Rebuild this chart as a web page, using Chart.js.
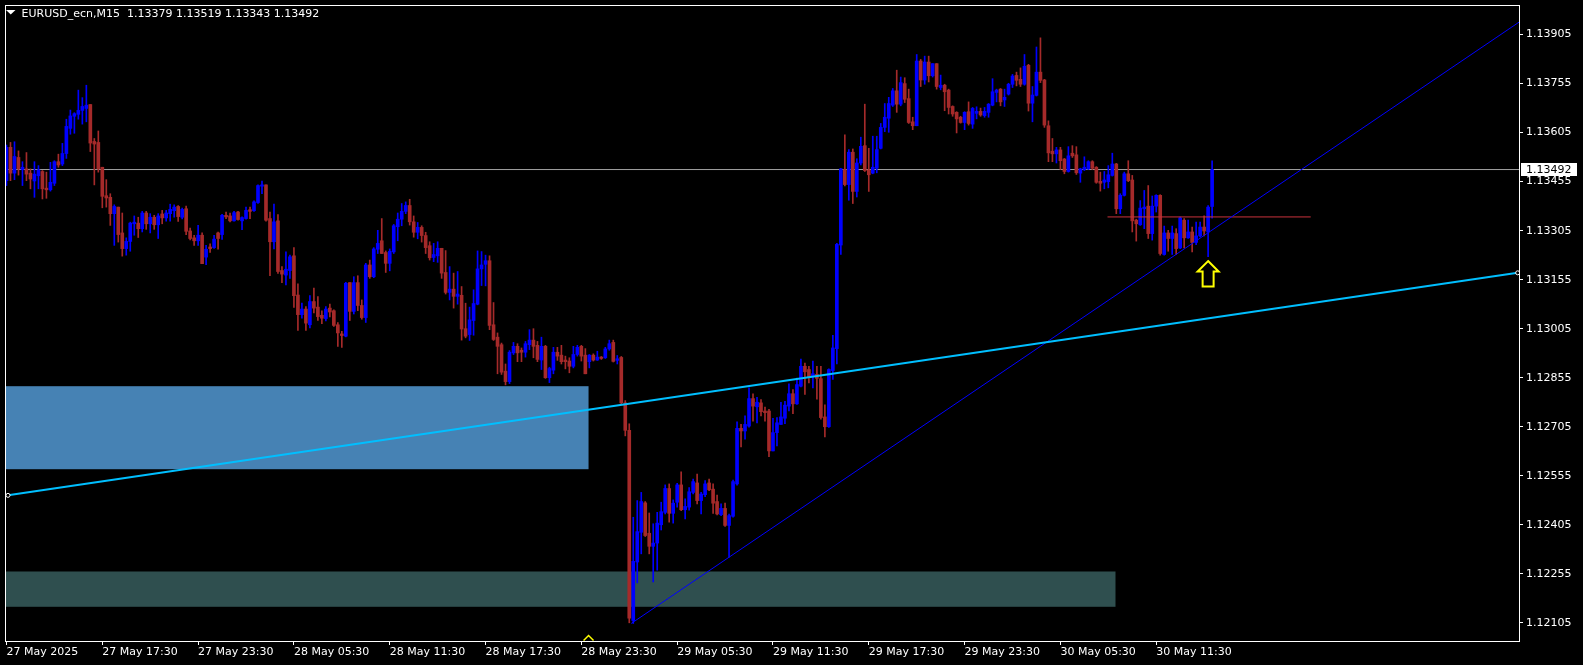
<!DOCTYPE html>
<html>
<head>
<meta charset="utf-8">
<script src="https://cdn.jsdelivr.net/npm/chart.js@4.4.1/dist/chart.umd.min.js"></script>
<style>
  html, body { margin: 0; padding: 0; background: #000; }
  #wrap { width: 1583px; height: 665px; }
</style>
</head>
<body>
<div id="wrap"><canvas id="chart" width="1583" height="665"></canvas></div>
<script>
const symbol = 'EURUSD_ecn,M15'

// M15 bars, index 0 = 27 May 11:30
const opens = [
  1.13458, 1.13560, 1.13481, 1.13529, 1.13492, 1.13494, 1.13481, 1.13457, 1.13473, 1.13486,
  1.13435, 1.13430, 1.13450, 1.13516, 1.13509, 1.13541, 1.13618, 1.13655, 1.13661, 1.13673,
  1.13679, 1.13691, 1.13578, 1.13575, 1.13499, 1.13412, 1.13407, 1.13357, 1.13377, 1.13298,
  1.13250, 1.13272, 1.13326, 1.13328, 1.13311, 1.13359, 1.13326, 1.13346, 1.13323, 1.13356,
  1.13344, 1.13357, 1.13366, 1.13379, 1.13346, 1.13372, 1.13304, 1.13283, 1.13274, 1.13291,
  1.13224, 1.13255, 1.13253, 1.13298, 1.13293, 1.13352, 1.13350, 1.13335, 1.13362, 1.13335,
  1.13342, 1.13369, 1.13366, 1.13391, 1.13441, 1.13445, 1.13342, 1.13271, 1.13335, 1.13183,
  1.13169, 1.13183, 1.13228, 1.13108, 1.13048, 1.13065, 1.13017, 1.13088, 1.13071, 1.13046,
  1.13036, 1.13068, 1.13060, 1.13017, 1.12989, 1.12982, 1.13146, 1.13058, 1.13146, 1.13076,
  1.13039, 1.13200, 1.13164, 1.13248, 1.13274, 1.13238, 1.13205, 1.13240, 1.13317, 1.13340,
  1.13364, 1.13382, 1.13332, 1.13300, 1.13315, 1.13290, 1.13259, 1.13223, 1.13228, 1.13251,
  1.13177, 1.13116, 1.13126, 1.13104, 1.13107, 1.13005, 1.12987, 1.13030, 1.13080, 1.13188,
  1.13202, 1.13213, 1.13017, 1.12979, 1.12956, 1.12875, 1.12843, 1.12931, 1.12951, 1.12939,
  1.12933, 1.12956, 1.12970, 1.12954, 1.12909, 1.12951, 1.12855, 1.12878, 1.12933, 1.12924,
  1.12909, 1.12906, 1.12890, 1.12926, 1.12951, 1.12924, 1.12904, 1.12924, 1.12909, 1.12918,
  1.12916, 1.12943, 1.12963, 1.12908, 1.12917, 1.12778, 1.12694, 1.12112, 1.12291, 1.12382,
  1.12472, 1.12379, 1.12339, 1.12349, 1.12405, 1.12443, 1.12516, 1.12440, 1.12474, 1.12527,
  1.12451, 1.12459, 1.12504, 1.12533, 1.12479, 1.12497, 1.12533, 1.12514, 1.12476, 1.12436,
  1.12455, 1.12403, 1.12431, 1.12530, 1.12700, 1.12692, 1.12707, 1.12791, 1.12766, 1.12778,
  1.12753, 1.12753, 1.12631, 1.12687, 1.12712, 1.12731, 1.12768, 1.12806, 1.12775, 1.12829,
  1.12890, 1.12880, 1.12860, 1.12865, 1.12852, 1.12735, 1.12705, 1.12877, 1.12944, 1.13261,
  1.13492, 1.13446, 1.13545, 1.13425, 1.13512, 1.13565, 1.13491, 1.13481, 1.13496, 1.13557,
  1.13621, 1.13649, 1.13689, 1.13733, 1.13692, 1.13755, 1.13709, 1.13638, 1.13626, 1.13824,
  1.13766, 1.13821, 1.13779, 1.13816, 1.13743, 1.13750, 1.13735, 1.13685, 1.13667, 1.13652,
  1.13636, 1.13669, 1.13631, 1.13664, 1.13670, 1.13657, 1.13667, 1.13689, 1.13728, 1.13738,
  1.13705, 1.13723, 1.13753, 1.13780, 1.13768, 1.13753, 1.13811, 1.13695, 1.13719, 1.13790,
  1.13766, 1.13626, 1.13548, 1.13540, 1.13552, 1.13524, 1.13486, 1.13542, 1.13537, 1.13481,
  1.13492, 1.13494, 1.13516, 1.13499, 1.13456, 1.13453, 1.13455, 1.13474, 1.13509, 1.13372,
  1.13413, 1.13479, 1.13460, 1.13337, 1.13323, 1.13372, 1.13380, 1.13296, 1.13380, 1.13413,
  1.13232, 1.13298, 1.13281, 1.13296, 1.13252, 1.13337, 1.13283, 1.13301, 1.13269, 1.13289,
  1.13316, 1.13301, 1.13379
]
const highs = [
  1.13567, 1.13575, 1.13577, 1.13549, 1.13516, 1.13544, 1.13494, 1.13516, 1.13504, 1.13489,
  1.13484, 1.13514, 1.13519, 1.13539, 1.13572, 1.13646, 1.13674, 1.13666, 1.13735, 1.13712,
  1.13750, 1.13691, 1.13587, 1.13610, 1.13499, 1.13461, 1.13418, 1.13384, 1.13377, 1.13359,
  1.13283, 1.13331, 1.13350, 1.13346, 1.13364, 1.13364, 1.13357, 1.13352, 1.13357, 1.13367,
  1.13367, 1.13386, 1.13384, 1.13382, 1.13374, 1.13380, 1.13313, 1.13291, 1.13321, 1.13298,
  1.13260, 1.13265, 1.13291, 1.13301, 1.13355, 1.13362, 1.13359, 1.13364, 1.13364, 1.13347,
  1.13377, 1.13377, 1.13396, 1.13445, 1.13457, 1.13445, 1.13362, 1.13386, 1.13354, 1.13195,
  1.13240, 1.13230, 1.13253, 1.13142, 1.13083, 1.13073, 1.13106, 1.13129, 1.13103, 1.13060,
  1.13073, 1.13080, 1.13063, 1.13024, 1.12997, 1.13147, 1.13146, 1.13164, 1.13167, 1.13093,
  1.13205, 1.13215, 1.13253, 1.13306, 1.13342, 1.13243, 1.13249, 1.13324, 1.13359, 1.13388,
  1.13393, 1.13401, 1.13350, 1.13330, 1.13320, 1.13300, 1.13271, 1.13266, 1.13271, 1.13251,
  1.13244, 1.13195, 1.13175, 1.13180, 1.13134, 1.13083, 1.13071, 1.13124, 1.13243, 1.13241,
  1.13230, 1.13228, 1.13085, 1.12992, 1.12961, 1.12897, 1.12938, 1.12963, 1.12959, 1.12946,
  1.12966, 1.13002, 1.13005, 1.12966, 1.12979, 1.12954, 1.12887, 1.12948, 1.12948, 1.12954,
  1.12921, 1.12916, 1.12951, 1.12954, 1.12954, 1.12944, 1.12926, 1.12928, 1.12936, 1.12920,
  1.12948, 1.12970, 1.12970, 1.12923, 1.12920, 1.12785, 1.12714, 1.12428, 1.12479, 1.12504,
  1.12476, 1.12441, 1.12408, 1.12443, 1.12474, 1.12527, 1.12530, 1.12481, 1.12532, 1.12567,
  1.12484, 1.12519, 1.12545, 1.12560, 1.12504, 1.12540, 1.12545, 1.12530, 1.12496, 1.12469,
  1.12471, 1.12438, 1.12542, 1.12720, 1.12712, 1.12738, 1.12824, 1.12806, 1.12795, 1.12788,
  1.12765, 1.12758, 1.12731, 1.12733, 1.12780, 1.12783, 1.12836, 1.12819, 1.12854, 1.12912,
  1.12900, 1.12890, 1.12906, 1.12890, 1.12890, 1.12772, 1.12882, 1.12985, 1.13266, 1.13496,
  1.13598, 1.13553, 1.13555, 1.13525, 1.13591, 1.13692, 1.13557, 1.13594, 1.13594, 1.13633,
  1.13694, 1.13713, 1.13740, 1.13796, 1.13775, 1.13773, 1.13738, 1.13652, 1.13844, 1.13829,
  1.13839, 1.13839, 1.13816, 1.13816, 1.13781, 1.13753, 1.13738, 1.13687, 1.13669, 1.13655,
  1.13669, 1.13699, 1.13682, 1.13684, 1.13680, 1.13682, 1.13694, 1.13770, 1.13738, 1.13740,
  1.13738, 1.13756, 1.13783, 1.13790, 1.13803, 1.13844, 1.13814, 1.13746, 1.13867, 1.13895,
  1.13768, 1.13641, 1.13587, 1.13560, 1.13560, 1.13526, 1.13562, 1.13565, 1.13562, 1.13496,
  1.13531, 1.13519, 1.13519, 1.13501, 1.13484, 1.13486, 1.13504, 1.13542, 1.13511, 1.13418,
  1.13484, 1.13519, 1.13474, 1.13340, 1.13397, 1.13428, 1.13443, 1.13411, 1.13415, 1.13415,
  1.13319, 1.13306, 1.13319, 1.13311, 1.13347, 1.13342, 1.13337, 1.13316, 1.13331, 1.13331,
  1.13350, 1.13382, 1.13519
]
const lows = [
  1.13443, 1.13458, 1.13461, 1.13475, 1.13443, 1.13458, 1.13433, 1.13407, 1.13433, 1.13402,
  1.13404, 1.13426, 1.13443, 1.13499, 1.13504, 1.13526, 1.13600, 1.13603, 1.13646, 1.13631,
  1.13638, 1.13547, 1.13445, 1.13484, 1.13375, 1.13377, 1.13321, 1.13260, 1.13270, 1.13227,
  1.13230, 1.13242, 1.13291, 1.13284, 1.13301, 1.13309, 1.13298, 1.13309, 1.13281, 1.13326,
  1.13334, 1.13334, 1.13346, 1.13333, 1.13341, 1.13293, 1.13277, 1.13260, 1.13260, 1.13204,
  1.13201, 1.13238, 1.13251, 1.13248, 1.13278, 1.13342, 1.13332, 1.13334, 1.13337, 1.13308,
  1.13340, 1.13342, 1.13364, 1.13388, 1.13418, 1.13334, 1.13167, 1.13249, 1.13174, 1.13146,
  1.13139, 1.13159, 1.13070, 1.13000, 1.13037, 1.13000, 1.13007, 1.13053, 1.13030, 1.13020,
  1.13029, 1.13041, 1.13012, 1.12951, 1.12948, 1.12980, 1.13030, 1.13050, 1.13060, 1.13034,
  1.13024, 1.13159, 1.13161, 1.13235, 1.13235, 1.13177, 1.13182, 1.13235, 1.13274, 1.13320,
  1.13357, 1.13322, 1.13285, 1.13280, 1.13270, 1.13235, 1.13215, 1.13210, 1.13208, 1.13159,
  1.13111, 1.13093, 1.13068, 1.13080, 1.12970, 1.12977, 1.12969, 1.12985, 1.13078, 1.13137,
  1.13136, 1.13002, 1.12969, 1.12867, 1.12865, 1.12833, 1.12837, 1.12926, 1.12904, 1.12904,
  1.12918, 1.12941, 1.12916, 1.12904, 1.12880, 1.12853, 1.12840, 1.12867, 1.12908, 1.12897,
  1.12882, 1.12870, 1.12885, 1.12921, 1.12906, 1.12867, 1.12885, 1.12906, 1.12908, 1.12911,
  1.12914, 1.12939, 1.12903, 1.12897, 1.12775, 1.12677, 1.12105, 1.12103, 1.12227, 1.12316,
  1.12369, 1.12316, 1.12230, 1.12266, 1.12389, 1.12438, 1.12413, 1.12410, 1.12459, 1.12448,
  1.12423, 1.12450, 1.12499, 1.12469, 1.12438, 1.12491, 1.12509, 1.12440, 1.12435, 1.12433,
  1.12400, 1.12306, 1.12428, 1.12526, 1.12643, 1.12667, 1.12704, 1.12722, 1.12717, 1.12738,
  1.12722, 1.12613, 1.12631, 1.12646, 1.12712, 1.12714, 1.12753, 1.12745, 1.12773, 1.12827,
  1.12804, 1.12839, 1.12824, 1.12789, 1.12728, 1.12674, 1.12703, 1.12850, 1.12897, 1.13232,
  1.13442, 1.13398, 1.13388, 1.13408, 1.13506, 1.13486, 1.13425, 1.13479, 1.13482, 1.13555,
  1.13608, 1.13606, 1.13685, 1.13667, 1.13687, 1.13697, 1.13633, 1.13614, 1.13626, 1.13746,
  1.13753, 1.13760, 1.13775, 1.13738, 1.13736, 1.13672, 1.13662, 1.13655, 1.13604, 1.13634,
  1.13614, 1.13628, 1.13618, 1.13647, 1.13655, 1.13652, 1.13652, 1.13687, 1.13699, 1.13687,
  1.13685, 1.13720, 1.13743, 1.13748, 1.13746, 1.13750, 1.13671, 1.13638, 1.13717, 1.13758,
  1.13621, 1.13516, 1.13516, 1.13512, 1.13492, 1.13479, 1.13484, 1.13529, 1.13477, 1.13453,
  1.13489, 1.13492, 1.13492, 1.13450, 1.13426, 1.13433, 1.13436, 1.13472, 1.13357, 1.13357,
  1.13411, 1.13455, 1.13301, 1.13273, 1.13321, 1.13311, 1.13281, 1.13276, 1.13362, 1.13230,
  1.13230, 1.13242, 1.13232, 1.13232, 1.13250, 1.13252, 1.13281, 1.13240, 1.13262, 1.13286,
  1.13289, 1.13225, 1.13343
]
const closes = [
  1.13560, 1.13481, 1.13532, 1.13494, 1.13499, 1.13478, 1.13463, 1.13478, 1.13491, 1.13433,
  1.13430, 1.13453, 1.13516, 1.13506, 1.13541, 1.13624, 1.13656, 1.13663, 1.13673, 1.13685,
  1.13689, 1.13573, 1.13570, 1.13494, 1.13410, 1.13405, 1.13357, 1.13379, 1.13293, 1.13250,
  1.13272, 1.13328, 1.13331, 1.13311, 1.13359, 1.13326, 1.13346, 1.13323, 1.13350, 1.13344,
  1.13359, 1.13370, 1.13377, 1.13348, 1.13370, 1.13303, 1.13281, 1.13274, 1.13291, 1.13204,
  1.13248, 1.13250, 1.13279, 1.13281, 1.13352, 1.13347, 1.13335, 1.13360, 1.13339, 1.13345,
  1.13367, 1.13364, 1.13393, 1.13443, 1.13445, 1.13337, 1.13271, 1.13332, 1.13180, 1.13172,
  1.13187, 1.13225, 1.13106, 1.13048, 1.13065, 1.13022, 1.13088, 1.13068, 1.13042, 1.13037,
  1.13065, 1.13056, 1.13015, 1.12992, 1.12984, 1.13144, 1.13058, 1.13146, 1.13076, 1.13039,
  1.13200, 1.13164, 1.13249, 1.13266, 1.13235, 1.13205, 1.13242, 1.13320, 1.13340, 1.13364,
  1.13382, 1.13332, 1.13300, 1.13315, 1.13290, 1.13253, 1.13222, 1.13232, 1.13251, 1.13175,
  1.13116, 1.13126, 1.13104, 1.13111, 1.13004, 1.12982, 1.13032, 1.13082, 1.13188, 1.13200,
  1.13213, 1.13015, 1.12972, 1.12951, 1.12872, 1.12843, 1.12933, 1.12951, 1.12931, 1.12933,
  1.12959, 1.12970, 1.12951, 1.12911, 1.12951, 1.12855, 1.12883, 1.12933, 1.12921, 1.12904,
  1.12904, 1.12890, 1.12926, 1.12948, 1.12921, 1.12867, 1.12924, 1.12909, 1.12918, 1.12914,
  1.12943, 1.12959, 1.12905, 1.12913, 1.12778, 1.12694, 1.12119, 1.12293, 1.12384, 1.12476,
  1.12372, 1.12339, 1.12349, 1.12410, 1.12445, 1.12516, 1.12440, 1.12471, 1.12527, 1.12451,
  1.12461, 1.12506, 1.12537, 1.12479, 1.12499, 1.12530, 1.12512, 1.12471, 1.12438, 1.12455,
  1.12403, 1.12433, 1.12537, 1.12700, 1.12692, 1.12712, 1.12791, 1.12768, 1.12780, 1.12751,
  1.12748, 1.12631, 1.12687, 1.12717, 1.12735, 1.12771, 1.12806, 1.12775, 1.12834, 1.12890,
  1.12873, 1.12856, 1.12867, 1.12853, 1.12733, 1.12705, 1.12880, 1.12946, 1.13263, 1.13494,
  1.13446, 1.13545, 1.13425, 1.13512, 1.13563, 1.13489, 1.13476, 1.13499, 1.13553, 1.13621,
  1.13652, 1.13694, 1.13733, 1.13692, 1.13758, 1.13707, 1.13636, 1.13626, 1.13824, 1.13766,
  1.13821, 1.13779, 1.13816, 1.13746, 1.13750, 1.13730, 1.13682, 1.13662, 1.13647, 1.13636,
  1.13667, 1.13633, 1.13679, 1.13670, 1.13659, 1.13670, 1.13692, 1.13730, 1.13735, 1.13699,
  1.13713, 1.13753, 1.13778, 1.13765, 1.13753, 1.13808, 1.13695, 1.13720, 1.13790, 1.13765,
  1.13628, 1.13543, 1.13540, 1.13552, 1.13519, 1.13486, 1.13534, 1.13534, 1.13482, 1.13494,
  1.13499, 1.13516, 1.13496, 1.13453, 1.13450, 1.13460, 1.13476, 1.13509, 1.13372, 1.13413,
  1.13479, 1.13458, 1.13335, 1.13326, 1.13374, 1.13377, 1.13296, 1.13380, 1.13413, 1.13235,
  1.13298, 1.13281, 1.13298, 1.13250, 1.13344, 1.13283, 1.13301, 1.13269, 1.13289, 1.13316,
  1.13304, 1.13377, 1.13492
]

// time axis: bar index of each label
const xTickIndex = [0, 24, 48, 72, 96, 120, 144, 168, 192, 216, 240, 264, 288]
const xLabels = ['27 May 2025', '27 May 17:30', '27 May 23:30', '28 May 05:30', '28 May 11:30',
  '28 May 17:30', '28 May 23:30', '29 May 05:30', '29 May 11:30', '29 May 17:30',
  '29 May 23:30', '30 May 05:30', '30 May 11:30']
const yTicks = [1.12105, 1.12255, 1.12405, 1.12555, 1.12705, 1.12855, 1.13005,
  1.13155, 1.13305, 1.13455, 1.13605, 1.13755, 1.13905]

// drawn objects: [fromBar, toBar, upperPrice, lowerPrice]
const zones = [
  [-5, 145.8, 1.12829, 1.12575],
  [-5, 277.8, 1.12262, 1.12154]
]
const cyanTrend = [{ x: 0.375, y: 1.12495 }, { x: 378.55, y: 1.13176 }]
const blueTrend = [{ x: 156.5, y: 1.12103 }, { x: 378.875, y: 1.13943 }]
const levelLine = [{ x: 275.8, y: 1.13347 }, { x: 326.7, y: 1.13347 }]
const arrowBar = 301
const arrowPrice = 1.13212
const markerBar = 145.8

const last = closes.length - 1
const bid = closes[last]
const bull = opens.map((o, i) => closes[i] >= o)
const barColors = bull.map(b => (b ? '#0000ff' : '#a52a2a'))

Chart.defaults.font.family = 'DejaVu Sans'
Chart.defaults.font.size = 11
Chart.defaults.color = '#ffffff'

const overlay = {
  id: 'overlay',
  beforeDraw (chart) {
    const { ctx, width, height } = chart
    ctx.save()
    ctx.fillStyle = '#000'
    ctx.fillRect(0, 0, width, height)
    ctx.restore()
  },
  beforeDatasetsDraw (chart) {
    const { ctx, chartArea: a, scales: { x, y } } = chart
    ctx.save()
    ctx.beginPath()
    ctx.rect(a.left, a.top, a.right - a.left, a.bottom - a.top)
    ctx.clip()
    const fills = ['#4682b4', '#2f4f4f']
    zones.forEach((z, k) => {
      const x0 = x.getPixelForValue(z[0])
      const x1 = x.getPixelForValue(z[1])
      const y0 = y.getPixelForValue(z[2])
      const y1 = y.getPixelForValue(z[3])
      ctx.fillStyle = fills[k]
      ctx.fillRect(x0, y0, x1 - x0, y1 - y0)
    })
    ctx.restore()
  },
  afterDraw (chart) {
    const { ctx, chartArea: a, scales: { x, y } } = chart
    ctx.save()

    // up arrow under the last-but-one bar
    const ax = x.getPixelForValue(arrowBar)
    const ay = y.getPixelForValue(arrowPrice)
    ctx.beginPath()
    ctx.moveTo(ax, ay)
    ctx.lineTo(ax + 10.5, ay + 10.5)
    ctx.lineTo(ax + 5.5, ay + 10.5)
    ctx.lineTo(ax + 5.5, ay + 25.5)
    ctx.lineTo(ax - 5.5, ay + 25.5)
    ctx.lineTo(ax - 5.5, ay + 10.5)
    ctx.lineTo(ax - 10.5, ay + 10.5)
    ctx.closePath()
    ctx.strokeStyle = '#ffff00'
    ctx.lineWidth = 2
    ctx.stroke()

    // small marker on the time axis
    const mx = x.getPixelForValue(markerBar)
    ctx.beginPath()
    ctx.moveTo(mx - 5, a.bottom - 0.5)
    ctx.lineTo(mx, a.bottom - 5.5)
    ctx.lineTo(mx + 5, a.bottom - 0.5)
    ctx.lineWidth = 1.5
    ctx.stroke()

    // frame
    ctx.strokeStyle = '#ffffff'
    ctx.lineWidth = 1
    ctx.strokeRect(a.left + 0.5, a.top + 0.5, a.right - a.left, a.bottom - a.top)

    // bid price label
    const by = Math.round(y.getPixelForValue(bid))
    ctx.fillStyle = '#ffffff'
    ctx.fillRect(a.right + 2, by - 7, 56, 13)
    ctx.fillStyle = '#000000'
    ctx.font = '11px "DejaVu Sans"'
    ctx.textBaseline = 'middle'
    ctx.textAlign = 'left'
    ctx.fillText(bid.toFixed(5), a.right + 7, by)

    // header
    ctx.fillStyle = '#ffffff'
    ctx.beginPath()
    ctx.moveTo(6, 10)
    ctx.lineTo(15.5, 10)
    ctx.lineTo(10.75, 14.5)
    ctx.closePath()
    ctx.fill()
    const ohlc = [opens[last], highs[last], lows[last], closes[last]].map(v => v.toFixed(5)).join(' ')
    ctx.textBaseline = 'alphabetic'
    ctx.fillText(symbol + '  ' + ohlc, 21.5, 17)
    ctx.restore()
  }
}

new Chart(document.getElementById('chart'), {
  type: 'bar',
  data: {
    datasets: [
      {
        type: 'line',
        data: cyanTrend,
        borderColor: '#00bfff',
        borderWidth: 2,
        pointRadius: 2,
        pointBorderColor: '#ffffff',
        pointBackgroundColor: '#000000',
        pointBorderWidth: 1,
        clip: 0,
        order: 0
      },
      {
        type: 'line',
        data: blueTrend,
        borderColor: '#0000ff',
        borderWidth: 1,
        pointRadius: 0,
        clip: 0,
        order: 1
      },
      {
        type: 'line',
        data: levelLine,
        borderColor: '#c8323c',
        borderWidth: 1,
        pointRadius: 0,
        clip: 0,
        order: 2
      },
      {
        label: 'bodies',
        data: opens.map((o, i) => ({ x: i, y: [o, closes[i]] })),
        backgroundColor: barColors,
        barThickness: 3,
        minBarLength: 1,
        grouped: false,
        order: 3
      },
      {
        label: 'wicks',
        data: lows.map((l, i) => ({ x: i, y: [l, highs[i]] })),
        backgroundColor: barColors,
        barThickness: 1,
        grouped: false,
        order: 4
      },
      {
        type: 'line',
        data: [{ x: -1, y: bid }, { x: 380, y: bid }],
        borderColor: '#a0a0a0',
        borderWidth: 1,
        pointRadius: 0,
        clip: 0,
        order: 5
      }
    ]
  },
  options: {
    responsive: false,
    animation: false,
    events: [],
    devicePixelRatio: 1,
    layout: { padding: { left: 2, top: 2, right: 0, bottom: 0 } },
    plugins: { legend: { display: false }, tooltip: { enabled: false } },
    scales: {
      x: {
        type: 'linear',
        min: -0.375,
        max: 378.875,
        offset: false,
        border: { display: false },
        grid: { drawOnChartArea: false, offset: false, color: '#ffffff', tickLength: 4 },
        ticks: {
          autoSkip: false,
          maxRotation: 0,
          align: 'start',
          padding: 1,
          color: '#ffffff',
          callback: (v, i) => xLabels[i]
        },
        afterBuildTicks: scale => { scale.ticks = xTickIndex.map(v => ({ value: v })) },
        afterFit: scale => {
          scale.height = 24
          scale.paddingLeft = 0
          scale.paddingRight = 0
        }
      },
      y: {
        position: 'right',
        min: 1.120493,
        max: 1.139955,
        border: { display: false },
        grid: { drawOnChartArea: false, color: '#ffffff', tickLength: 4 },
        ticks: {
          padding: 3,
          color: '#ffffff',
          callback: v => v.toFixed(5)
        },
        afterBuildTicks: scale => { scale.ticks = yTicks.map(v => ({ value: v })) },
        afterFit: scale => {
          scale.width = 64
          scale.paddingTop = 0
          scale.paddingBottom = 0
        }
      }
    }
  },
  plugins: [overlay]
})
</script>
</body>
</html>
